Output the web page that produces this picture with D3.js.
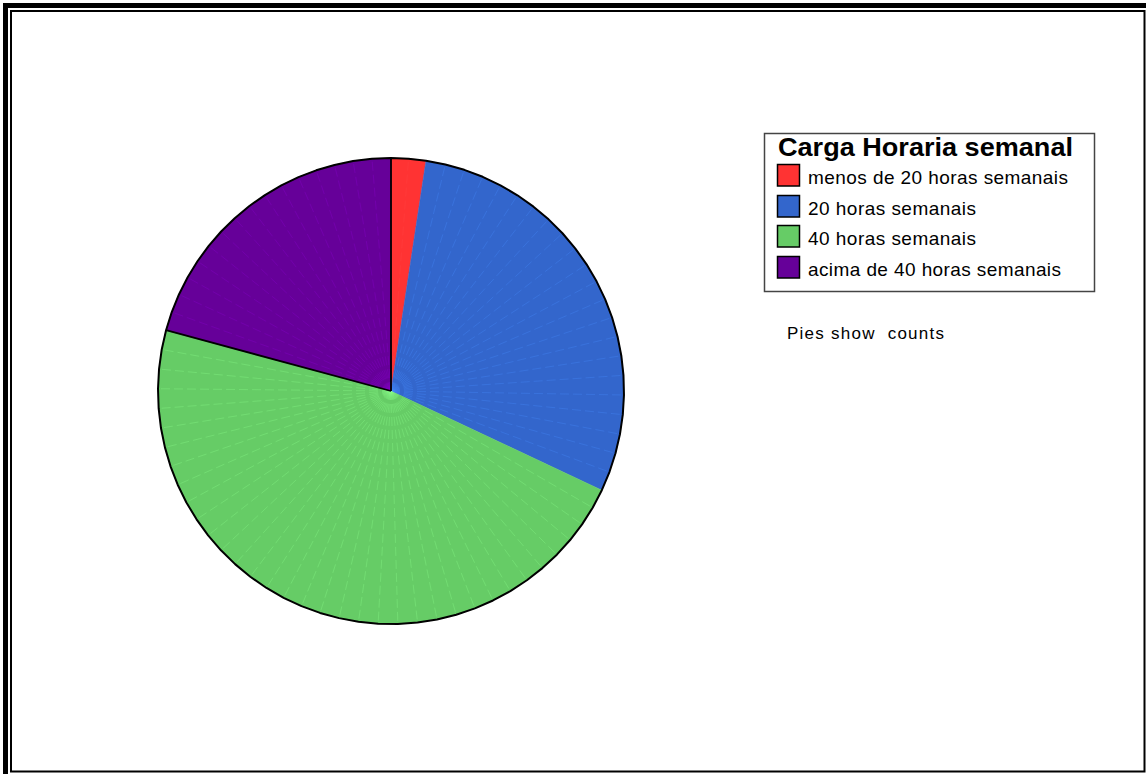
<!DOCTYPE html>
<html>
<head>
<meta charset="utf-8">
<script src="https://cdn.jsdelivr.net/npm/d3@7"></script>
<style>
  body { margin: 0; background: #fff; }
  svg { display: block; font-family: "Liberation Sans", Arial, sans-serif; }
</style>
</head>
<body>
<div id="chart"></div>
<script>
// data (counts)
var categories = ["menos de 20 horas semanais", "20 horas semanais", "40 horas semanais", "acima de 40 horas semanais"];
var counts = [3, 37, 59, 26];
var colors = ["#ff3333", "#3366cc", "#66cc66", "#660099"];
var legendTitle = "Carga Horaria semanal";
var note = "Pies show  counts";

var width = 1146, height = 774;
var center = {x: 391, y: 391};
var radius = 233;
var facetDeg = 4.8; // the pie is drawn as a polygon of small wedges

var svg = d3.select("#chart").append("svg")
  .attr("width", width)
  .attr("height", height);

// frame
svg.append("path")
  .attr("d", "M5.5," + height + " V5.5 H" + width)
  .attr("fill", "none").attr("stroke", "#000").attr("stroke-width", 5);
svg.append("rect")
  .attr("x", 11).attr("y", 11)
  .attr("width", 1133.5).attr("height", 760.5)
  .attr("fill", "none").attr("stroke", "#000").attr("stroke-width", 2);

var pie = d3.pie().sort(null).value(function(d) { return d; });
var arcs = pie(counts);

function pt(a) {
  return [center.x + radius * Math.sin(a), center.y - radius * Math.cos(a)];
}

// split every slice into facets
arcs.forEach(function(d, i) {
  var span = d.endAngle - d.startAngle;
  var n = Math.max(1, Math.round(span * 180 / Math.PI / facetDeg));
  d.angles = d3.range(n + 1).map(function(k) { return d.startAngle + span * k / n; });
  d.color = colors[i];
});

var g = svg.append("g");

g.selectAll(".slice")
  .data(arcs)
  .enter().append("path")
  .attr("class", "slice")
  .attr("d", function(d) {
    var p = [[center.x, center.y]].concat(d.angles.map(pt));
    return "M" + p.join("L") + "Z";
  })
  .attr("fill", function(d) { return d.color; })
  .attr("stroke", function(d) { return d.color; })
  .attr("stroke-width", 0.5);

// light seams between facets
arcs.forEach(function(d) {
  var seams = d.angles.slice(1, -1);
  g.selectAll(null)
    .data(seams)
    .enter().append("line")
    .attr("x1", center.x).attr("y1", center.y)
    .attr("x2", function(a) { return pt(a)[0]; })
    .attr("y2", function(a) { return pt(a)[1]; })
    .attr("stroke", d3.color(d.color).brighter(0.9))
    .attr("stroke-opacity", 0.45)
    .attr("stroke-width", 0.7)
    .attr("stroke-dasharray", "9,4");
});

// outline of the whole pie
var rim = [];
arcs.forEach(function(d, i) {
  d.angles.forEach(function(a, k) { if (k > 0 || i === 0) rim.push(pt(a)); });
});
g.append("path")
  .attr("d", "M" + rim.join("L") + "Z")
  .attr("fill", "none")
  .attr("stroke", "#000")
  .attr("stroke-width", 2)
  .attr("stroke-linejoin", "round");

// dark edges of the last slice
var last = arcs[arcs.length - 1];
g.selectAll(null)
  .data([last.startAngle, last.endAngle])
  .enter().append("line")
  .attr("x1", center.x).attr("y1", center.y)
  .attr("x2", function(a) { return pt(a)[0]; })
  .attr("y2", function(a) { return pt(a)[1]; })
  .attr("stroke", "#000")
  .attr("stroke-width", 1.8);

// legend
var legend = svg.append("g");
legend.append("rect")
  .attr("x", 764.5).attr("y", 133.5)
  .attr("width", 330).attr("height", 158)
  .attr("fill", "#fff").attr("stroke", "#444").attr("stroke-width", 1.5);
legend.append("text")
  .attr("x", 778).attr("y", 156)
  .attr("font-size", 26).attr("font-weight", "bold")
  .attr("textLength", 295).attr("lengthAdjust", "spacingAndGlyphs")
  .text(legendTitle);

var rowY = [183.5, 214.5, 244.5, 275.5];
var rowLen = [260, 168, 168, 253];
var item = legend.selectAll(".item")
  .data(categories)
  .enter().append("g")
  .attr("class", "item")
  .attr("transform", function(d, i) { return "translate(0," + rowY[i] + ")"; });
item.append("rect")
  .attr("x", 777.5).attr("y", -19)
  .attr("width", 22).attr("height", 21.5)
  .attr("fill", function(d, i) { return colors[i]; })
  .attr("stroke", "#000").attr("stroke-width", 1.5);
item.append("text")
  .attr("x", 808).attr("y", 0)
  .attr("font-size", 19)
  .attr("textLength", function(d, i) { return rowLen[i]; })
  .attr("lengthAdjust", "spacing")
  .text(function(d) { return d; });

svg.append("text")
  .attr("x", 787).attr("y", 339)
  .attr("font-size", 17)
  .attr("xml:space", "preserve")
  .style("white-space", "pre")
  .attr("textLength", 157)
  .attr("lengthAdjust", "spacing")
  .text(note);
</script>
</body>
</html>
